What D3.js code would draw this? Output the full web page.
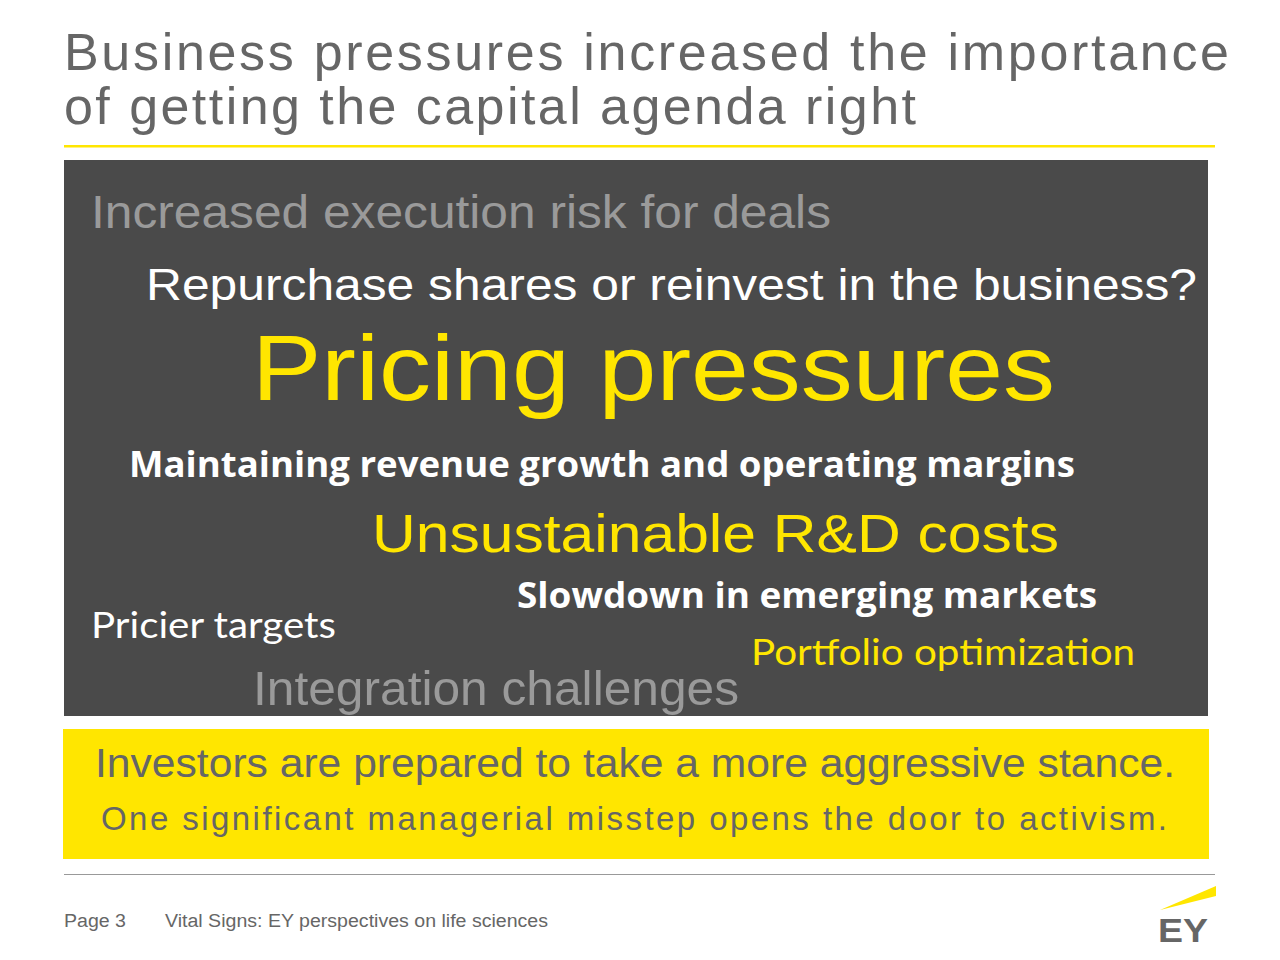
<!DOCTYPE html>
<html><head><meta charset="utf-8">
<script src="https://cdn.jsdelivr.net/npm/d3@7"></script>
<style>body{margin:0;background:#fff}</style></head>
<body><svg id="c" width="1280" height="960"></svg>
<script>
const titleLines = ["Business pressures increased the importance", "of getting the capital agenda right"];
const phrases = ["Increased execution risk for deals","Repurchase shares or reinvest in the business?","Pricing pressures","Maintaining revenue growth and operating margins","Unsustainable R&D costs","Slowdown in emerging markets","Pricier targets","Portfolio optimization","Integration challenges"];
const weights = [46,44,92,36,54,36,36,36,48];
const tones = ["grey","white","yellow","whiteBold","yellow","whiteBold","whiteCal","yellowCal","grey"];
const callout = ["Investors are prepared to take a more aggressive stance.","One significant managerial misstep opens the door to activism."];
const footer = ["Page 3","Vital Signs: EY perspectives on life sciences"];

const layout = [[91,228,740],[146,300,1051],[252,400,803],[129,477,946],[372,552,687],[517,608,580],[91,638,245],[751,665,384],[253,705,486]];
const style = {
  grey:{fill:"#9a9a9a",font:"Liberation Sans, Arial",w:400},
  white:{fill:"#ffffff",font:"Liberation Sans, Arial",w:400},
  yellow:{fill:"#ffe600",font:"Liberation Sans, Arial",w:400},
  whiteBold:{fill:"#ffffff",font:"Open Sans, Lato",w:700},
  whiteCal:{fill:"#ffffff",font:"Lato, Open Sans",w:400},
  yellowCal:{fill:"#ffe600",font:"Lato, Open Sans",w:400}
};
const svg = d3.select("#c");
const sz = d3.scaleLinear().domain([0,1]).range([0,1]);

svg.selectAll("text.t").data(titleLines).join("text").attr("class","t")
  .attr("x",64).attr("y",(d,i)=>[70,124][i]).attr("font-family","Liberation Sans, Arial")
  .attr("font-size",52).attr("fill","#666").attr("textLength",(d,i)=>[1165,852][i]).text(d=>d);
svg.append("rect").attr("x",64).attr("y",145).attr("width",1151).attr("height",2.5).attr("fill","#ffe600");
svg.append("rect").attr("x",64).attr("y",160).attr("width",1144).attr("height",556).attr("fill","#4a4a4a");

svg.selectAll("text.p").data(phrases).join("text").attr("class","p")
  .attr("x",(d,i)=>layout[i][0]).attr("y",(d,i)=>layout[i][1])
  .attr("font-size",(d,i)=>sz(weights[i]))
  .attr("font-family",(d,i)=>style[tones[i]].font).attr("font-weight",(d,i)=>style[tones[i]].w)
  .attr("fill",(d,i)=>style[tones[i]].fill)
  .attr("textLength",(d,i)=>layout[i][2]).attr("lengthAdjust","spacingAndGlyphs").text(d=>d);

svg.append("rect").attr("x",63).attr("y",729).attr("width",1146).attr("height",130).attr("fill","#ffe600");
svg.selectAll("text.c").data(callout).join("text").attr("class","c")
  .attr("x",(d,i)=>[95,101][i]).attr("y",(d,i)=>[777,830][i]).attr("font-family","Liberation Sans, Arial")
  .attr("font-size",(d,i)=>[40,33][i]).attr("fill","#666")
  .attr("textLength",(d,i)=>[1080,1066][i]).attr("lengthAdjust",(d,i)=>i?"spacing":"spacingAndGlyphs").text(d=>d);

svg.append("rect").attr("x",64).attr("y",874).attr("width",1151).attr("height",1).attr("fill","#999");
svg.selectAll("text.f").data(footer).join("text").attr("class","f")
  .attr("x",(d,i)=>[64,165][i]).attr("y",927).attr("font-family","Liberation Sans, Arial")
  .attr("font-size",18).attr("fill","#666").attr("textLength",(d,i)=>[62,383][i]).attr("lengthAdjust","spacingAndGlyphs").text(d=>d);
svg.append("polygon").attr("points","1160,910 1216,886 1216,896").attr("fill","#ffe600");
svg.append("text").attr("x",1158).attr("y",942).attr("font-family","Liberation Sans, Arial").attr("font-weight",700)
  .attr("font-size",34).attr("fill","#666").attr("textLength",50).attr("lengthAdjust","spacingAndGlyphs").text("EY");
</script></body></html>
